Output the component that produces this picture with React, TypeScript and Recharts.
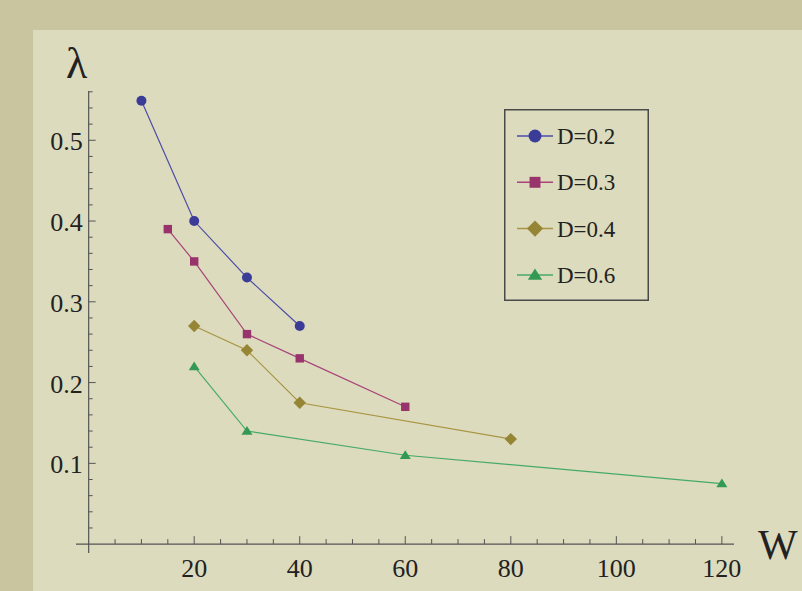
import React from 'react';
import { LineChart, Line, XAxis, YAxis, ReferenceLine, Legend } from 'recharts';

// values: W (x) and lambda (y) for each D
const W_D02 = [10, 20, 30, 40];
const L_D02 = [0.549, 0.4, 0.33, 0.27];
const W_D03 = [15, 20, 30, 40, 60];
const L_D03 = [0.39, 0.35, 0.26, 0.23, 0.17];
const W_D04 = [20, 30, 40, 80];
const L_D04 = [0.27, 0.24, 0.175, 0.13];
const W_D06 = [20, 30, 60, 120];
const L_D06 = [0.22, 0.14, 0.11, 0.075];

const X_MAJOR = [20, 40, 60, 80, 100, 120];
const X_MINOR = [5, 10, 15, 25, 30, 35, 45, 50, 55, 65, 70, 75, 85, 90, 95, 105, 110, 115];
const Y_MAJOR = [0.1, 0.2, 0.3, 0.4, 0.5];
const Y_MINOR = [
  0.02, 0.04, 0.06, 0.08, 0.12, 0.14, 0.16, 0.18, 0.22, 0.24, 0.26, 0.28,
  0.32, 0.34, 0.36, 0.38, 0.42, 0.44, 0.46, 0.48, 0.52, 0.54, 0.56,
];

const WIDTH = 802;
const HEIGHT = 591;
const X_AXIS_H = 38;
const Y_AXIS_W = 76;
const MARGIN = { top: 91, left: 0, right: 68, bottom: 0 };
const X_DOMAIN: [number, number] = [-2.4, 122.3];
const Y_DOMAIN: [number, number] = [-0.011, 0.561];
const PLOT_W = WIDTH - Y_AXIS_W - MARGIN.right;
const PLOT_H = HEIGHT - MARGIN.top - X_AXIS_H;
// distance from plot edge to the zero lines (where Mathematica draws its axes)
const ZERO_OFF_X = (PLOT_W * (0 - X_DOMAIN[0])) / (X_DOMAIN[1] - X_DOMAIN[0]);
const ZERO_OFF_Y = (PLOT_H * (0 - Y_DOMAIN[0])) / (Y_DOMAIN[1] - Y_DOMAIN[0]);

const AXIS = '#555555';
const FONT = '"Liberation Serif", "DejaVu Serif", serif';
const TEXT = '#222222';

const toRows = (ws: number[], ls: number[]) => ws.map((w, i) => ({ w, lambda: ls[i] }));

const SERIES = [
  { name: 'D=0.2', data: toRows(W_D02, L_D02), line: '#4d4da8', fill: '#3b3b98', shape: 'circle' },
  { name: 'D=0.3', data: toRows(W_D03, L_D03), line: '#a84478', fill: '#99336b', shape: 'square' },
  { name: 'D=0.4', data: toRows(W_D04, L_D04), line: '#a89442', fill: '#968535', shape: 'diamond' },
  { name: 'D=0.6', data: toRows(W_D06, L_D06), line: '#45aa66', fill: '#339955', shape: 'triangle' },
];

function Marker({ cx, cy, shape, fill, size }: any) {
  if (cx == null || cy == null) return null;
  const s = size;
  if (shape === 'circle') return <circle cx={cx} cy={cy} r={s * 0.5} fill={fill} />;
  if (shape === 'square')
    return <rect x={cx - s * 0.42} y={cy - s * 0.42} width={s * 0.84} height={s * 0.84} fill={fill} />;
  if (shape === 'diamond') {
    const r = s * 0.62;
    return <polygon points={`${cx},${cy - r} ${cx + r},${cy} ${cx},${cy + r} ${cx - r},${cy}`} fill={fill} />;
  }
  const h = s * 0.5;
  return <polygon points={`${cx},${cy - h} ${cx + h * 1.1},${cy + h * 0.75} ${cx - h * 1.1},${cy + h * 0.75}`} fill={fill} />;
}

function XTick({ x, y, payload }: any) {
  const major = X_MAJOR.includes(payload.value);
  const y0 = y - ZERO_OFF_Y;
  return (
    <g>
      <line x1={x} x2={x} y1={y0} y2={y0 - (major ? 8 : 5)} stroke={AXIS} strokeWidth={1} />
      {major && (
        <text x={x} y={y0 + 33} textAnchor="middle" fontFamily={FONT} fontSize={26} fill={TEXT}>
          {payload.value}
        </text>
      )}
    </g>
  );
}

function YTick({ x, y, payload }: any) {
  const major = Y_MAJOR.some((v) => Math.abs(v - payload.value) < 1e-9);
  const x0 = x + ZERO_OFF_X;
  return (
    <g>
      <line x1={x0} x2={x0 + (major ? 7 : 4)} y1={y} y2={y} stroke={AXIS} strokeWidth={1} />
      {major && (
        <text x={x0 - 6} y={y + 10} textAnchor="end" fontFamily={FONT} fontSize={26} fill={TEXT}>
          {payload.value.toFixed(1)}
        </text>
      )}
    </g>
  );
}

function LegendBox() {
  return (
    <svg width={145} height={192} style={{ display: 'block' }}>
      <rect x={0.75} y={0.75} width={143.5} height={190.5} fill="none" stroke="#4a4a4a" strokeWidth={1.5} />
      {SERIES.map((s, i) => {
        const cy = 27 + i * 46.3;
        return (
          <g key={s.name}>
            <line x1={13} x2={49} y1={cy} y2={cy} stroke={s.line} strokeWidth={1.5} />
            <Marker cx={31} cy={cy} shape={s.shape} fill={s.fill} size={13} />
            <text x={53} y={cy + 8} fontFamily={FONT} fontSize={23} fill={TEXT}>
              {s.name}
            </text>
          </g>
        );
      })}
    </svg>
  );
}

export default function App() {
  const allTicksX = [...X_MINOR, ...X_MAJOR].sort((a, b) => a - b);
  const allTicksY = [...Y_MINOR, ...Y_MAJOR].sort((a, b) => a - b);
  return (
    <div style={{ position: 'absolute', left: 0, top: 0, width: WIDTH, height: HEIGHT, background: '#c9c69f', overflow: 'hidden' }}>
      <div style={{ position: 'absolute', left: 33, top: 30, right: 0, bottom: 0, background: '#dcdbbd' }} />
      <div style={{ position: 'absolute', left: 0, top: 0 }}>
        <LineChart width={WIDTH} height={HEIGHT} margin={MARGIN}>
          <XAxis
            type="number"
            dataKey="w"
            domain={X_DOMAIN}
            allowDataOverflow
            ticks={allTicksX}
            interval={0}
            height={X_AXIS_H}
            axisLine={false}
            tickLine={false}
            tickSize={0}
            tickMargin={0}
            tick={(p: any) => <XTick {...p} />}
          />
          <YAxis
            type="number"
            dataKey="lambda"
            domain={Y_DOMAIN}
            allowDataOverflow
            ticks={allTicksY}
            interval={0}
            width={Y_AXIS_W}
            axisLine={false}
            tickLine={false}
            tickSize={0}
            tickMargin={0}
            tick={(p: any) => <YTick {...p} />}
          />
          <ReferenceLine x={0} stroke={AXIS} strokeWidth={1.2} />
          <ReferenceLine y={0} stroke={AXIS} strokeWidth={1.2} />
          {SERIES.map((s) => (
            <Line
              key={s.name}
              name={s.name}
              data={s.data}
              dataKey="lambda"
              type="linear"
              stroke={s.line}
              strokeWidth={1.2}
              isAnimationActive={false}
              dot={(p: any) => <Marker key={`${s.name}-${p.index}`} cx={p.cx} cy={p.cy} shape={s.shape} fill={s.fill} size={10} />}
              activeDot={false}
            />
          ))}
          <Legend
            layout="vertical"
            align="center"
            verticalAlign="middle"
            wrapperStyle={{ left: 504, top: 109, width: 145, height: 192 }}
            content={() => <LegendBox />}
          />
        </LineChart>
      </div>
      <div style={{ position: 'absolute', left: 66, top: 38, fontFamily: FONT, fontSize: 44, color: TEXT, lineHeight: '52px' }}>λ</div>
      <div style={{ position: 'absolute', left: 758, top: 518, fontFamily: FONT, fontSize: 42, color: TEXT, lineHeight: '54px' }}>W</div>
    </div>
  );
}
